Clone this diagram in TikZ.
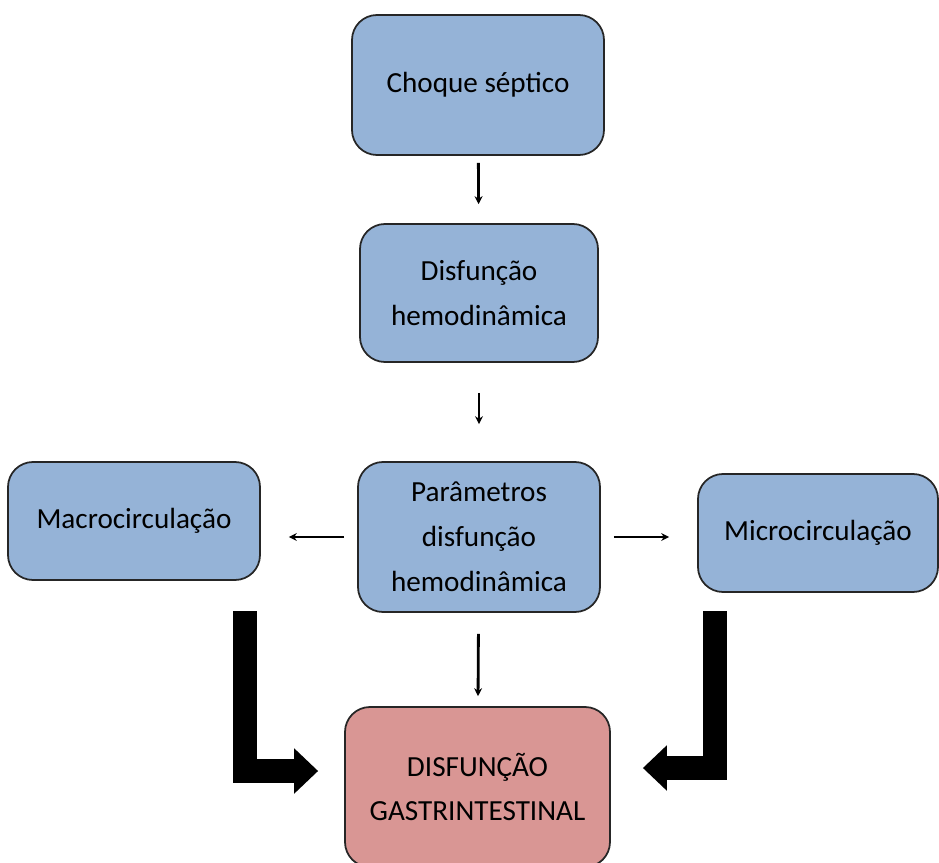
\documentclass[tikz,border=0pt]{standalone}
\usepackage{fontspec}
\setmainfont{Carlito}
\usetikzlibrary{arrows.meta}
\definecolor{caixaazul}{RGB}{149,179,215}
\definecolor{caixavermelha}{RGB}{217,150,148}
\tikzset{
 caixa/.style={draw=black!85, line width=1pt, rounded corners=0.5cm, fill=caixaazul, align=center, font=\fontsize{16.6}{25.5}\selectfont, inner sep=0pt},
 seta/.style={line width=1.6pt, -{Stealth[length=4.5pt,width=4.5pt]}},
 setagrossa/.style={line width=0.48cm, -{Triangle[length=0.48cm,width=0.88cm]}}
}
\begin{document}
\begin{tikzpicture}
 \clip (0,0) rectangle (18.78,-17.26); %area
 \node[caixa, minimum width=5.04cm, minimum height=2.8cm] (choque) at (9.56,-1.70) {Choque séptico}; %caixa 1
 \node[caixa, minimum width=4.76cm, minimum height=2.76cm] (disf) at (9.58,-5.86) {Disfunção\\hemodinâmica}; %caixa 2
 \node[caixa, minimum width=4.84cm, minimum height=3.0cm] (param) at (9.58,-10.74) {Parâmetros\\disfunção\\hemodinâmica}; %caixa 3
 \node[caixa, minimum width=5.04cm, minimum height=2.36cm] (macro) at (2.68,-10.42) {Macrocirculação}; %esquerda
 \node[caixa, minimum width=4.8cm, minimum height=2.36cm] (micro) at (16.36,-10.66) {Microcirculação}; %direita
 \node[caixa, fill=caixavermelha, minimum width=5.3cm, minimum height=3.2cm] (gastro) at (9.55,-15.74) {DISFUNÇÃO\\GASTRINTESTINAL}; %caixa final
 \coordinate (lstart) at (4.90,-12.22); %inicio seta grossa esquerda
 \coordinate (rstart) at (14.30,-12.22); %inicio seta grossa direita
 \draw[seta, shorten <=0.14cm, shorten >=0.38cm] (choque) -- (disf); %1-2
 \draw[seta, shorten <=0.6cm, shorten >=0.74cm] (disf) -- (param); %2-3
 \draw[seta, shorten <=0.26cm, shorten >=0.56cm] (param.west) -- (param.west -| macro.east); %3-macro
 \draw[seta, shorten <=0.26cm, shorten >=0.56cm] (param.east) -- (param.east -| micro.west); %3-micro
 \draw[seta, shorten <=0.42cm, shorten >=0.2cm] (param) -- (gastro); %3-final
 \draw[setagrossa, shorten >=0.52cm] (lstart) |- ([yshift=0.32cm]gastro.west); %macro-final
 \draw[setagrossa, shorten >=0.64cm] (rstart) |- ([yshift=0.38cm]gastro.east); %micro-final
\end{tikzpicture}
\end{document}
